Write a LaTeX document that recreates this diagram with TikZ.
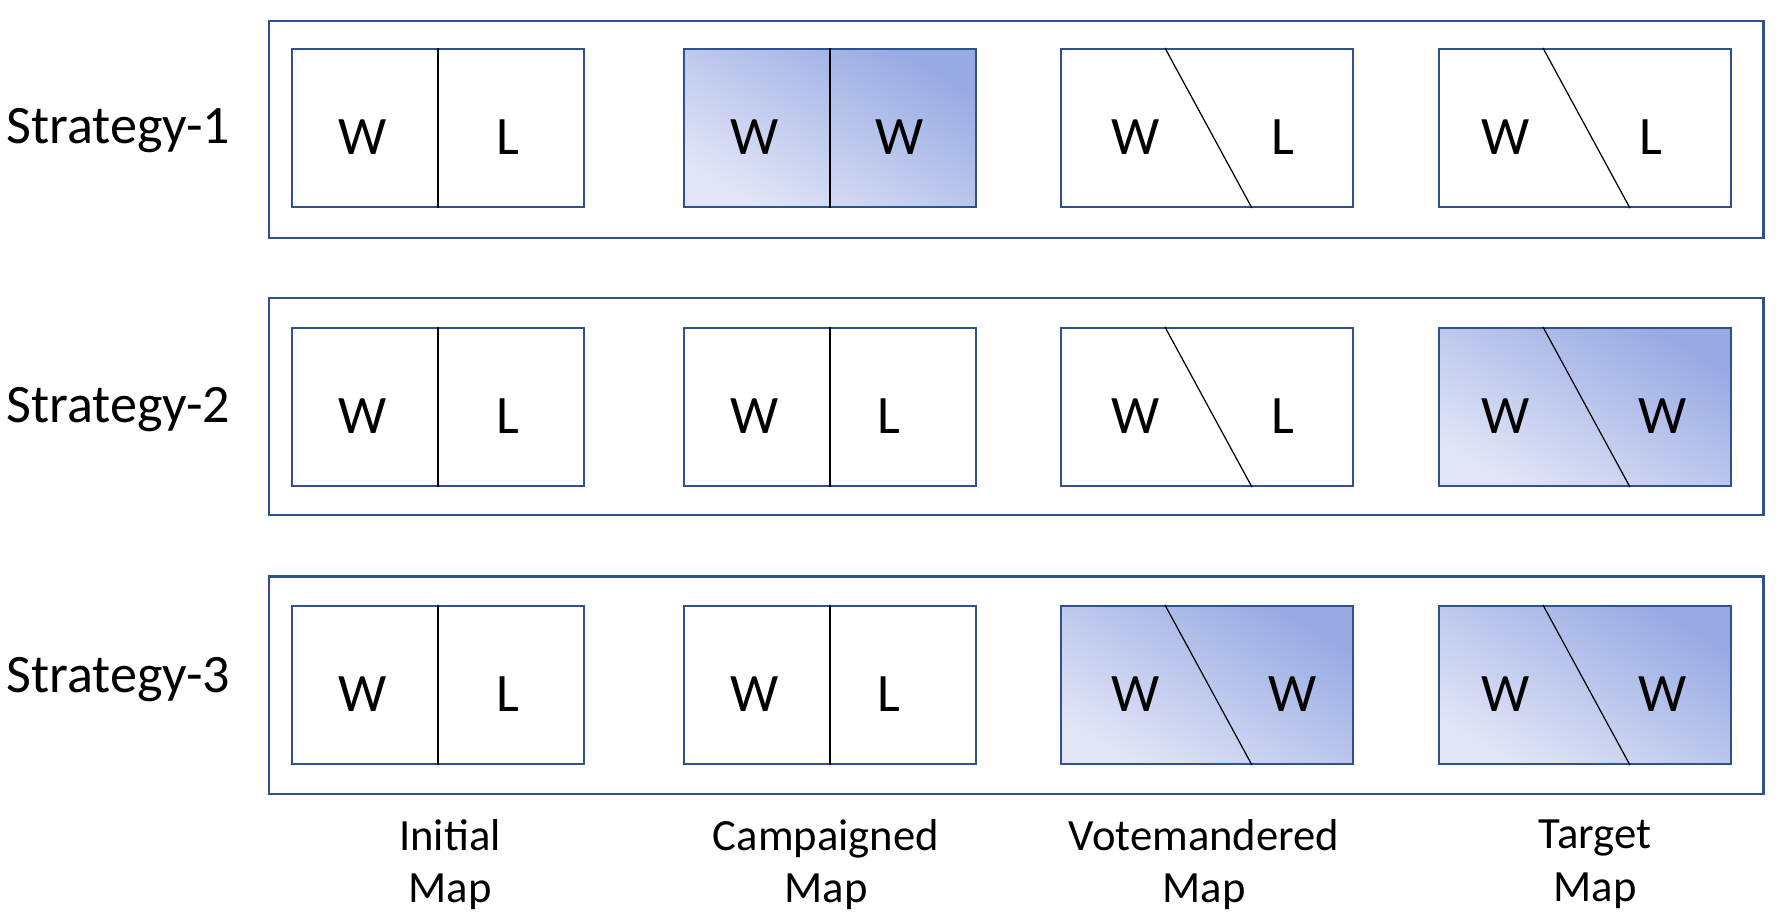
\documentclass[tikz,border=0pt]{standalone}
\usepackage{fontspec}
\setmainfont{Carlito}
\usepackage{tikz}
\definecolor{boxblue}{HTML}{2F528F}
\definecolor{palefill}{HTML}{E1E5F6}
\definecolor{deepfill}{HTML}{98AAE3}

\begin{document}
\begin{tikzpicture}[x=0.01cm, y=-0.01cm,
		strip/.style = {draw=boxblue, line width=0.6pt, minimum width=14.94cm, minimum height=2.17cm, inner sep=0},
		mapbox/.style = {draw=boxblue, line width=0.6pt, minimum width=2.92cm, minimum height=1.58cm, inner sep=0},
		won/.style = {top color=deepfill, bottom color=palefill, shading angle=-30},
		cut/.style = {black, line width=0.35pt},
		vote/.style = {anchor=base, inner sep=0, font=\fontsize{15.4pt}{18pt}\selectfont},
		strat/.style = {anchor=base west, inner sep=0, font=\fontsize{15.4pt}{18pt}\selectfont},
		maplabel/.style = {align=center, inner sep=0, font=\fontsize{12.7pt}{15pt}\selectfont}]
		\useasboundingbox (0,0) rectangle (1782,920);
		% rows
		\node[strip] (r1) at (1016,129.5) {};
		\node[strip] (r2) at (1016,406.5) {};
		\node[strip] (r3) at (1016,685) {};
		\node[strat] (s1) at (6,143) {Strategy-1};
		\node[strat] (s2) at (6,422.5) {Strategy-2};
		\node[strat] (s3) at (6,692) {Strategy-3};
		% maps
		\node[mapbox] (m11) at (438,128) {};
		\node[mapbox, won] (m12) at (830,128) {};
		\node[mapbox] (m13) at (1207,128) {};
		\node[mapbox] (m14) at (1585,128) {};
		\node[mapbox] (m21) at (438,407) {};
		\node[mapbox] (m22) at (830,407) {};
		\node[mapbox] (m23) at (1207,407) {};
		\node[mapbox, won] (m24) at (1585,407) {};
		\node[mapbox] (m31) at (438,685) {};
		\node[mapbox] (m32) at (830,685) {};
		\node[mapbox, won] (m33) at (1207,685) {};
		\node[mapbox, won] (m34) at (1585,685) {};
		% district borders
		\draw[cut] (m11.north) -- (m11.south);
		\draw[cut] (m12.north) -- (m12.south);
		\draw[cut] ([xshift=1.05cm]m13.north west) -- ([xshift=1.92cm]m13.south west);
		\draw[cut] ([xshift=1.05cm]m14.north west) -- ([xshift=1.92cm]m14.south west);
		\draw[cut] (m21.north) -- (m21.south);
		\draw[cut] (m22.north) -- (m22.south);
		\draw[cut] ([xshift=1.05cm]m23.north west) -- ([xshift=1.92cm]m23.south west);
		\draw[cut] ([xshift=1.05cm]m24.north west) -- ([xshift=1.92cm]m24.south west);
		\draw[cut] (m31.north) -- (m31.south);
		\draw[cut] (m32.north) -- (m32.south);
		\draw[cut] ([xshift=1.05cm]m33.north west) -- ([xshift=1.92cm]m33.south west);
		\draw[cut] ([xshift=1.05cm]m34.north west) -- ([xshift=1.92cm]m34.south west);
		% outcomes
		\node[vote] (w11a) at (363,154.5) {W};
		\node[vote] (w11b) at (508,154.5) {L};
		\node[vote] (w12a) at (755,154.5) {W};
		\node[vote] (w12b) at (900,154.5) {W};
		\node[vote] (w13a) at (1136,154.5) {W};
		\node[vote] (w13b) at (1283,154.5) {L};
		\node[vote] (w14a) at (1506,154.5) {W};
		\node[vote] (w14b) at (1651,154.5) {L};
		\node[vote] (w21a) at (363,433) {W};
		\node[vote] (w21b) at (508,433) {L};
		\node[vote] (w22a) at (755,433) {W};
		\node[vote] (w22b) at (889,433) {L};
		\node[vote] (w23a) at (1136,433) {W};
		\node[vote] (w23b) at (1283,433) {L};
		\node[vote] (w24a) at (1506,433) {W};
		\node[vote] (w24b) at (1663,433) {W};
		\node[vote] (w31a) at (363,711.5) {W};
		\node[vote] (w31b) at (508,711.5) {L};
		\node[vote] (w32a) at (755,711.5) {W};
		\node[vote] (w32b) at (889,711.5) {L};
		\node[vote] (w33a) at (1136,711.5) {W};
		\node[vote] (w33b) at (1293,711.5) {W};
		\node[vote] (w34a) at (1506,711.5) {W};
		\node[vote] (w34b) at (1663,711.5) {W};
		% stages
		\node[maplabel] (c1) at (450,864.5) {Initial\\Map};
		\node[maplabel] (c2) at (826,864.5) {Campaigned\\Map};
		\node[maplabel] (c3) at (1204,864.5) {Votemandered\\Map};
		\node[maplabel] (c4) at (1595,864.5) {Target\\Map};
	\end{tikzpicture}
\end{document}
